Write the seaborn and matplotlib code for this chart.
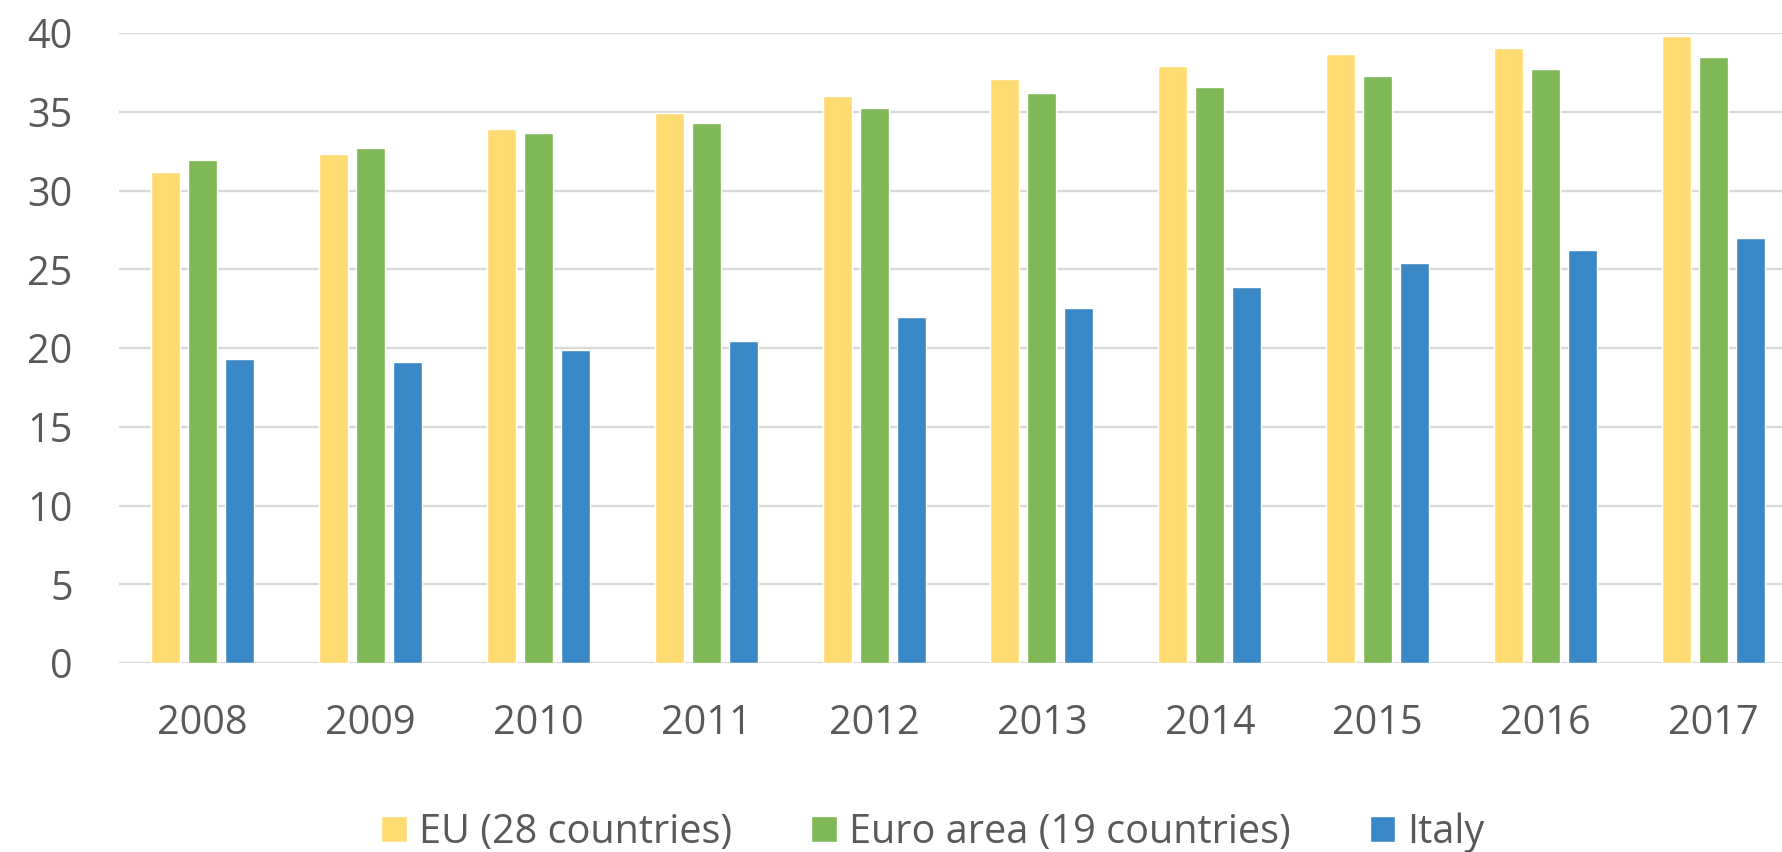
import pandas as pd
import matplotlib
matplotlib.use("Agg")
import matplotlib.pyplot as plt
import seaborn as sns

# values
years = ["2008", "2009", "2010", "2011", "2012", "2013", "2014", "2015", "2016", "2017"]
eu28 = [31.2, 32.3, 33.9, 34.9, 36.0, 37.1, 37.9, 38.7, 39.05, 39.8]
euro19 = [31.95, 32.7, 33.65, 34.3, 35.25, 36.2, 36.55, 37.3, 37.7, 38.5]
italy = [19.3, 19.1, 19.85, 20.45, 22.0, 22.55, 23.9, 25.4, 26.25, 27.0]
series_names = ["EU (28 countries)", "Euro area (19 countries)", "Italy"]
colors = ["#FFDB72", "#7FB856", "#3A88C5"]
y_ticks = [0, 5, 10, 15, 20, 25, 30, 35, 40]

df = pd.DataFrame({
    "year": years * 3,
    "series": [series_names[0]] * 10 + [series_names[1]] * 10 + [series_names[2]] * 10,
    "value": eu28 + euro19 + italy,
})

sns.set_style("white")
plt.rcParams["font.family"] = ["Open Sans", "DejaVu Sans"]
text_col = "#595959"

fig = plt.figure(figsize=(17.82, 8.52), dpi=100)
ax = fig.add_axes([0.0665, 0.2218, 0.9422, 0.7394])

sns.barplot(data=df, x="year", y="value", hue="series", order=years,
            hue_order=series_names, palette=colors, width=0.661, gap=0.216,
            saturation=1, errorbar=None, ax=ax, zorder=3)

ax.set_ylim(0, 40)
ax.set_xlim(-0.5, 9.5)
ax.set_yticks(y_ticks)
ax.set_xlabel("")
ax.set_ylabel("")
ax.yaxis.grid(True, color="#D9D9D9", linewidth=1.7, zorder=0)
ax.set_axisbelow(True)
for s in ax.spines.values():
    s.set_visible(False)
ax.tick_params(axis="x", length=0, pad=29, labelsize=28.5, labelcolor=text_col)
ax.tick_params(axis="y", length=0, pad=33, labelsize=28.5, labelcolor=text_col)

handles, labels = ax.get_legend_handles_labels()
ax.legend_.remove()
leg = fig.legend(handles, labels, loc="center", bbox_to_anchor=(0.5235, 0.023),
                 ncol=3, frameon=False, fontsize=28.5, handlelength=0.65,
                 handleheight=0.65, handletextpad=0.3, columnspacing=2.0,
                 borderaxespad=0, borderpad=0)
for t in leg.get_texts():
    t.set_color(text_col)

fig.savefig("out.png", dpi=100)
